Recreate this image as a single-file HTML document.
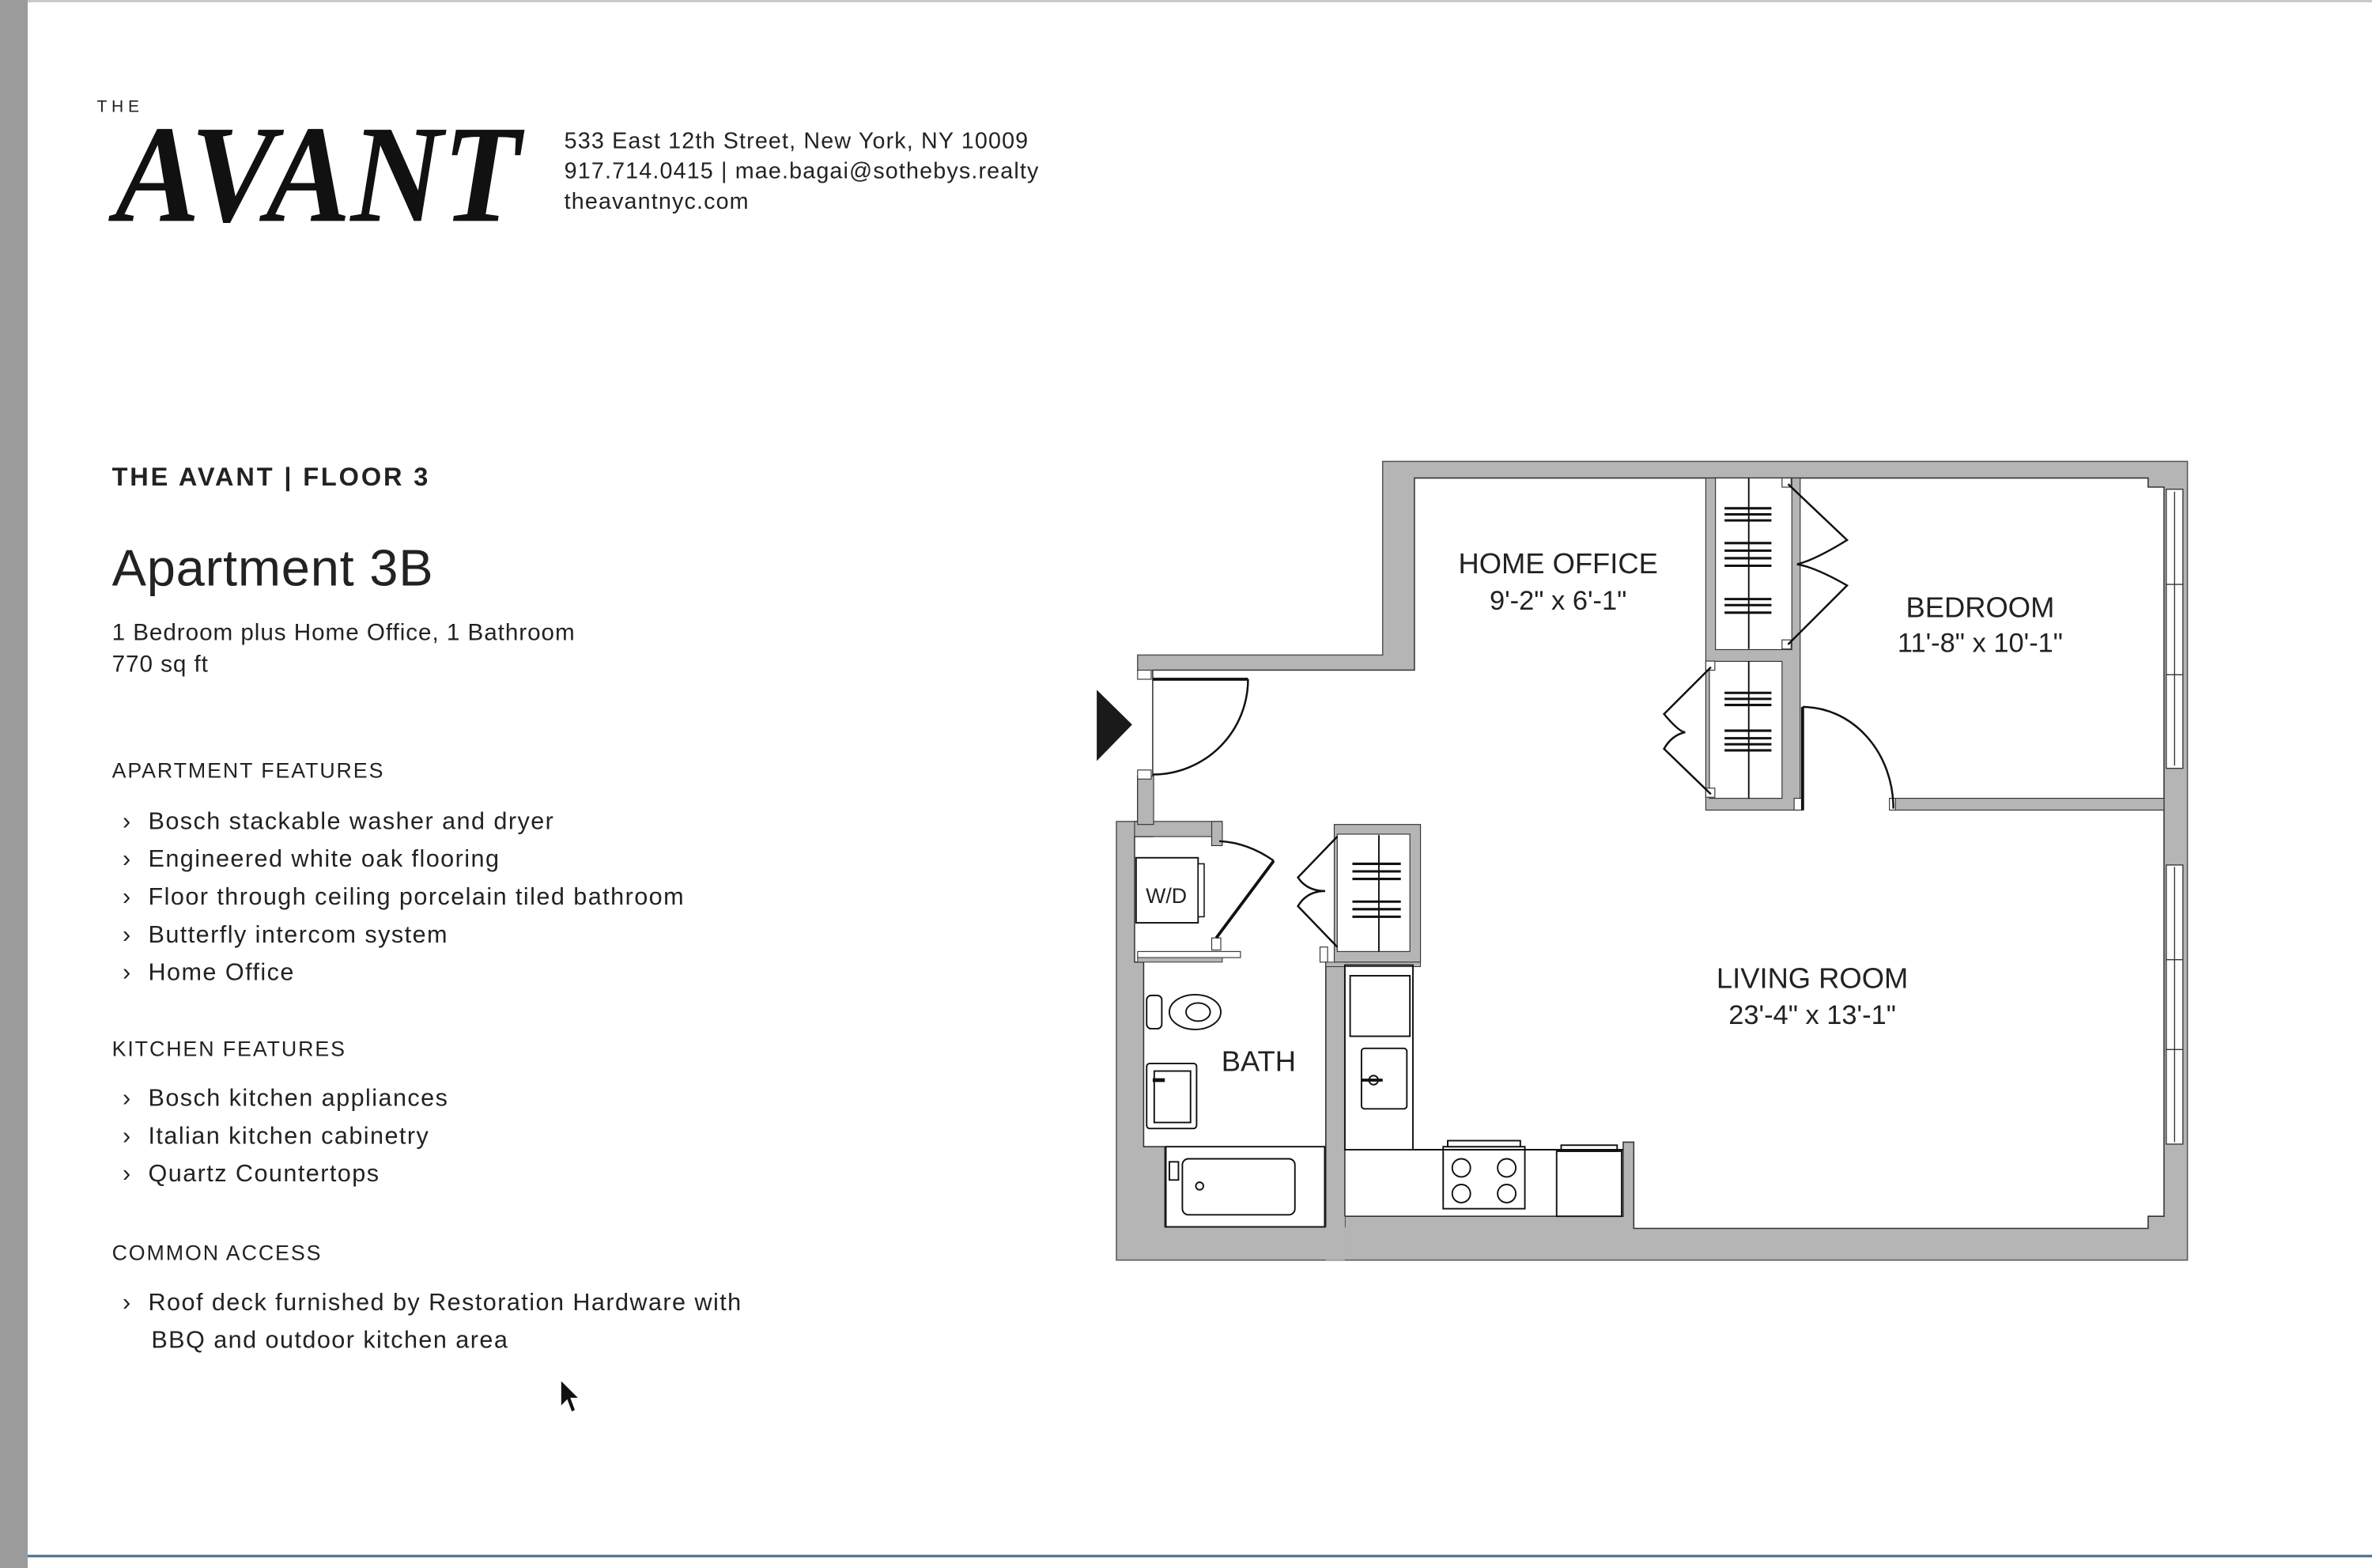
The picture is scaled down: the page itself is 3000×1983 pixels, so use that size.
<!DOCTYPE html>
<html><head><meta charset="utf-8"><style>
html,body{margin:0;padding:0;background:#fff;}
svg{display:block;}
text{font-family:"Liberation Sans",sans-serif;fill:#222;}
</style></head><body>
<svg width="3000" height="1983" viewBox="0 0 1568 1036.5" preserveAspectRatio="none" xmlns="http://www.w3.org/2000/svg">
<rect x="0" y="0" width="1568" height="1036.5" fill="#fff"/>
<rect x="0" y="0" width="18.3" height="1036.5" fill="#9b9b9b"/>
<rect x="18.3" y="0" width="1550" height="1.5" fill="#c8c8c8"/>
<rect x="18.3" y="1027.8" width="1550" height="1.6" fill="#4a6b8f"/>

<!-- logo -->
<text x="64" y="74" font-size="11" letter-spacing="3">THE</text>
<text x="76" y="146" font-size="92" font-style="italic" font-weight="bold" textLength="268" lengthAdjust="spacingAndGlyphs" style="font-family:'Liberation Serif',serif;fill:#111">AVANT</text>
<g font-size="15" letter-spacing="0.6">
<text x="373" y="98">533 East 12th Street, New York, NY 10009</text>
<text x="373" y="118">917.714.0415 | mae.bagai@sothebys.realty</text>
<text x="373" y="138">theavantnyc.com</text>
</g>

<!-- left column -->
<text x="74" y="321" font-size="17" font-weight="bold" letter-spacing="1.5">THE AVANT | FLOOR 3</text>
<text x="74" y="387" font-size="34" letter-spacing="0.4">Apartment 3B</text>
<g font-size="15.5" letter-spacing="0.5">
<text x="74" y="423">1 Bedroom plus Home Office, 1 Bathroom</text>
<text x="74" y="444">770 sq ft</text>
</g>

<text x="74" y="514" font-size="14" letter-spacing="1">APARTMENT FEATURES</text>
<g font-size="16" letter-spacing="0.75">
<text x="81" y="548">›</text><text x="98" y="548">Bosch stackable washer and dryer</text>
<text x="81" y="573">›</text><text x="98" y="573">Engineered white oak flooring</text>
<text x="81" y="598">›</text><text x="98" y="598">Floor through ceiling porcelain tiled bathroom</text>
<text x="81" y="623">›</text><text x="98" y="623">Butterfly intercom system</text>
<text x="81" y="648">›</text><text x="98" y="648">Home Office</text>
</g>
<text x="74" y="698" font-size="14" letter-spacing="1">KITCHEN FEATURES</text>
<g font-size="16" letter-spacing="0.75">
<text x="81" y="731">›</text><text x="98" y="731">Bosch kitchen appliances</text>
<text x="81" y="756">›</text><text x="98" y="756">Italian kitchen cabinetry</text>
<text x="81" y="781">›</text><text x="98" y="781">Quartz Countertops</text>
</g>
<text x="74" y="833" font-size="14" letter-spacing="1">COMMON ACCESS</text>
<g font-size="16" letter-spacing="0.75">
<text x="81" y="866">›</text><text x="98" y="866">Roof deck furnished by Restoration Hardware with</text>
<text x="100" y="891">BBQ and outdoor kitchen area</text>
</g>
<!-- cursor -->
<path d="M371,913 L371,929 L375,925 L378,933 L380,932 L377,924 L382,924 Z" fill="#111"/>

<!-- floor plan -->
<g stroke-linejoin="miter">
<polygon points="914,305 1446,305 1446,833 738,833 738,543 752,543 752,433 914,433" fill="#b5b5b5" stroke="#555" stroke-width="0.8"/>
<rect x="748" y="443.6" width="15" height="69" fill="#fff"/>
<polygon points="935,316 1420,316 1420,322 1430.5,322 1430.5,804 1420,804 1420,812 1080,812 1080,755 1073,755 1073,804 889,804 889,811 770,811 770,758 756,758 756,636 750,636 750,553 762,553 762,443 935,443" fill="#fff" stroke="#333" stroke-width="0.8"/>
<rect x="750" y="543" width="58" height="10" fill="#b5b5b5" stroke="#333" stroke-width="0.6"/>
<rect x="801" y="543" width="7" height="16" fill="#b5b5b5" stroke="#333" stroke-width="0.6"/>
<rect x="801" y="620" width="6" height="8" fill="#fff" stroke="#333" stroke-width="0.6"/>
<rect x="752" y="629" width="68" height="4" fill="#fff" stroke="#333" stroke-width="0.6"/>
<rect x="752" y="633" width="56" height="3" fill="#b5b5b5" stroke="#333" stroke-width="0.5"/>
<rect x="752" y="513" width="10.6" height="32" fill="#b5b5b5" stroke="#333" stroke-width="0.6"/>
<rect x="752" y="443" width="9" height="6" fill="#fff" stroke="#333" stroke-width="0.6"/>
<rect x="752" y="509" width="9" height="6" fill="#fff" stroke="#333" stroke-width="0.6"/>
<rect x="882" y="545" width="57" height="91" fill="#b5b5b5" stroke="#333" stroke-width="0.6"/>
<rect x="884" y="551.4" width="48" height="77.6" fill="#fff" stroke="#333" stroke-width="0.6"/>
<rect x="876.4" y="636" width="12.6" height="197" fill="#b5b5b5"/>
<line x1="876.4" y1="636" x2="876.4" y2="811" stroke="#333" stroke-width="0.8"/>
<line x1="889" y1="636" x2="889" y2="804" stroke="#333" stroke-width="0.8"/>
<rect x="872.6" y="626" width="5" height="10" fill="#fff" stroke="#333" stroke-width="0.6"/>
<rect x="876.4" y="636" width="62.6" height="3" fill="#b5b5b5" stroke="#333" stroke-width="0.5"/>
<rect x="1127.6" y="316" width="62.4" height="219.5" fill="#b5b5b5" stroke="#333" stroke-width="0.6"/>
<rect x="1134" y="316" width="50.5" height="113.4" fill="#fff" stroke="#333" stroke-width="0.6"/>
<rect x="1130" y="437.2" width="48" height="90.5" fill="#fff" stroke="#333" stroke-width="0.6"/>
<rect x="1178" y="316" width="6" height="6" fill="#fff" stroke="#333" stroke-width="0.6"/>
<rect x="1178" y="423" width="6" height="6" fill="#fff" stroke="#333" stroke-width="0.6"/>
<rect x="1127.6" y="437" width="6" height="6" fill="#fff" stroke="#333" stroke-width="0.6"/>
<rect x="1127.6" y="521" width="6" height="6" fill="#fff" stroke="#333" stroke-width="0.6"/>
<rect x="1252" y="527.7" width="178.5" height="7.8" fill="#b5b5b5" stroke="#333" stroke-width="0.6"/>
<rect x="1186" y="527.7" width="6" height="7.8" fill="#fff" stroke="#333" stroke-width="0.6"/>
<rect x="1249" y="527.7" width="4" height="7.8" fill="#fff" stroke="#333" stroke-width="0.6"/>
<g fill="#fff" stroke="#333" stroke-width="0.7">
<rect x="1432" y="323.4" width="11" height="184.5"/>
<rect x="1432" y="571.8" width="11" height="184.5"/>
</g>
<g stroke="#333" stroke-width="0.7">
<line x1="1437.5" y1="325" x2="1437.5" y2="506"/>
<line x1="1437.5" y1="573" x2="1437.5" y2="755"/>
<line x1="1432" y1="386.3" x2="1443" y2="386.3"/>
<line x1="1432" y1="446" x2="1443" y2="446"/>
<line x1="1432" y1="634.4" x2="1443" y2="634.4"/>
<line x1="1432" y1="693.8" x2="1443" y2="693.8"/>
</g>
</g>

<g fill="none" stroke="#111" stroke-width="1.3">
<line x1="762" y1="449" x2="825" y2="449" stroke-width="2"/>
<path d="M825,449 A63,63 0 0 1 762,512"/>
<line x1="1191.6" y1="467.3" x2="1191.6" y2="535.5" stroke-width="2"/>
<path d="M1191.6,467.3 A60,67 0 0 1 1251.6,534.5"/>
<line x1="804" y1="620" x2="842" y2="569" stroke-width="2"/>
<path d="M842,569 Q825,557 806,556"/>
<path d="M884,553 L858,580 Q864,589 876,589 Q864,589 858,599 L884,626"/>
<path d="M1182,320 L1221,357 Q1200,370 1188,373 Q1200,375 1221,387 L1182,426"/>
<path d="M1131,441 L1100,472 Q1110,484 1114,484 Q1105,486 1100,495 L1131,525"/>
<line x1="1156" y1="316" x2="1156" y2="429" stroke-width="1"/>
<line x1="1156" y1="437" x2="1156" y2="528" stroke-width="1"/>
<line x1="911.5" y1="552" x2="911.5" y2="629" stroke-width="1"/>
</g>
<g stroke="#111" stroke-width="1.6">
<line x1="1140" y1="336" x2="1171" y2="336"/><line x1="1140" y1="340" x2="1171" y2="340"/><line x1="1140" y1="344" x2="1171" y2="344"/>
<line x1="1140" y1="359" x2="1171" y2="359"/><line x1="1140" y1="364" x2="1171" y2="364"/><line x1="1140" y1="369" x2="1171" y2="369"/><line x1="1140" y1="374" x2="1171" y2="374"/>
<line x1="1140" y1="396" x2="1171" y2="396"/><line x1="1140" y1="400" x2="1171" y2="400"/><line x1="1140" y1="405" x2="1171" y2="405"/>
<line x1="1140" y1="458" x2="1171" y2="458"/><line x1="1140" y1="462" x2="1171" y2="462"/><line x1="1140" y1="466" x2="1171" y2="466"/>
<line x1="1140" y1="483" x2="1171" y2="483"/><line x1="1140" y1="488" x2="1171" y2="488"/><line x1="1140" y1="492" x2="1171" y2="492"/><line x1="1140" y1="496" x2="1171" y2="496"/>
<line x1="894" y1="571" x2="926" y2="571"/><line x1="894" y1="576" x2="926" y2="576"/><line x1="894" y1="581" x2="926" y2="581"/>
<line x1="894" y1="596" x2="926" y2="596"/><line x1="894" y1="601" x2="926" y2="601"/><line x1="894" y1="606" x2="926" y2="606"/>
</g>
<polygon points="725,456 725,503 748.4,479" fill="#1a1a1a"/>
<rect x="751" y="567" width="41" height="43" fill="#fff" stroke="#111" stroke-width="1"/>
<rect x="792" y="571" width="4" height="35" fill="#fff" stroke="#111" stroke-width="0.8"/>
<text x="771" y="597" font-size="14" text-anchor="middle">W/D</text>
<g fill="#fff" stroke="#111" stroke-width="1">
<rect x="758" y="658" width="10" height="22" rx="3"/>
<ellipse cx="790" cy="669" rx="17" ry="11.5"/>
<ellipse cx="792" cy="669" rx="8" ry="6"/>
<rect x="758" y="703" width="33" height="43" rx="2"/>
<rect x="763" y="708" width="24" height="34"/>
<rect x="770.7" y="758" width="105" height="53"/>
<rect x="781.6" y="766" width="74.4" height="37" rx="4"/>
<circle cx="793" cy="784" r="2.5"/>
<rect x="773" y="768" width="6" height="12"/>
<rect x="889" y="638" width="45" height="122" fill="none"/>
<rect x="892.5" y="645" width="39.5" height="40"/>
<rect x="900" y="693" width="30" height="40" rx="2"/>
<circle cx="908" cy="714" r="3"/>
<rect x="954" y="758" width="54" height="41"/>
<rect x="957" y="754" width="48" height="4"/>
<circle cx="966" cy="772" r="6"/><circle cx="996" cy="772" r="6"/>
<circle cx="966" cy="789" r="6"/><circle cx="996" cy="789" r="6"/>
<rect x="1029" y="761" width="43" height="43"/>
<rect x="1032" y="757" width="37" height="4"/>
</g>
<line x1="934" y1="760" x2="1073" y2="760" stroke="#111" stroke-width="1"/>
<line x1="762" y1="714" x2="770" y2="714" stroke="#111" stroke-width="2.5"/>
<line x1="900" y1="714" x2="914" y2="714" stroke="#111" stroke-width="2"/>

<g font-size="19" text-anchor="middle">
<text x="1030" y="379">HOME OFFICE</text>
<text x="1030" y="403" font-size="18">9'-2" x 6'-1"</text>
<text x="1309" y="408">BEDROOM</text>
<text x="1309" y="431" font-size="18">11'-8" x 10'-1"</text>
<text x="1198" y="653">LIVING ROOM</text>
<text x="1198" y="677" font-size="18">23'-4" x 13'-1"</text>
<text x="832" y="708">BATH</text>
</g>
</svg>
</body></html>
